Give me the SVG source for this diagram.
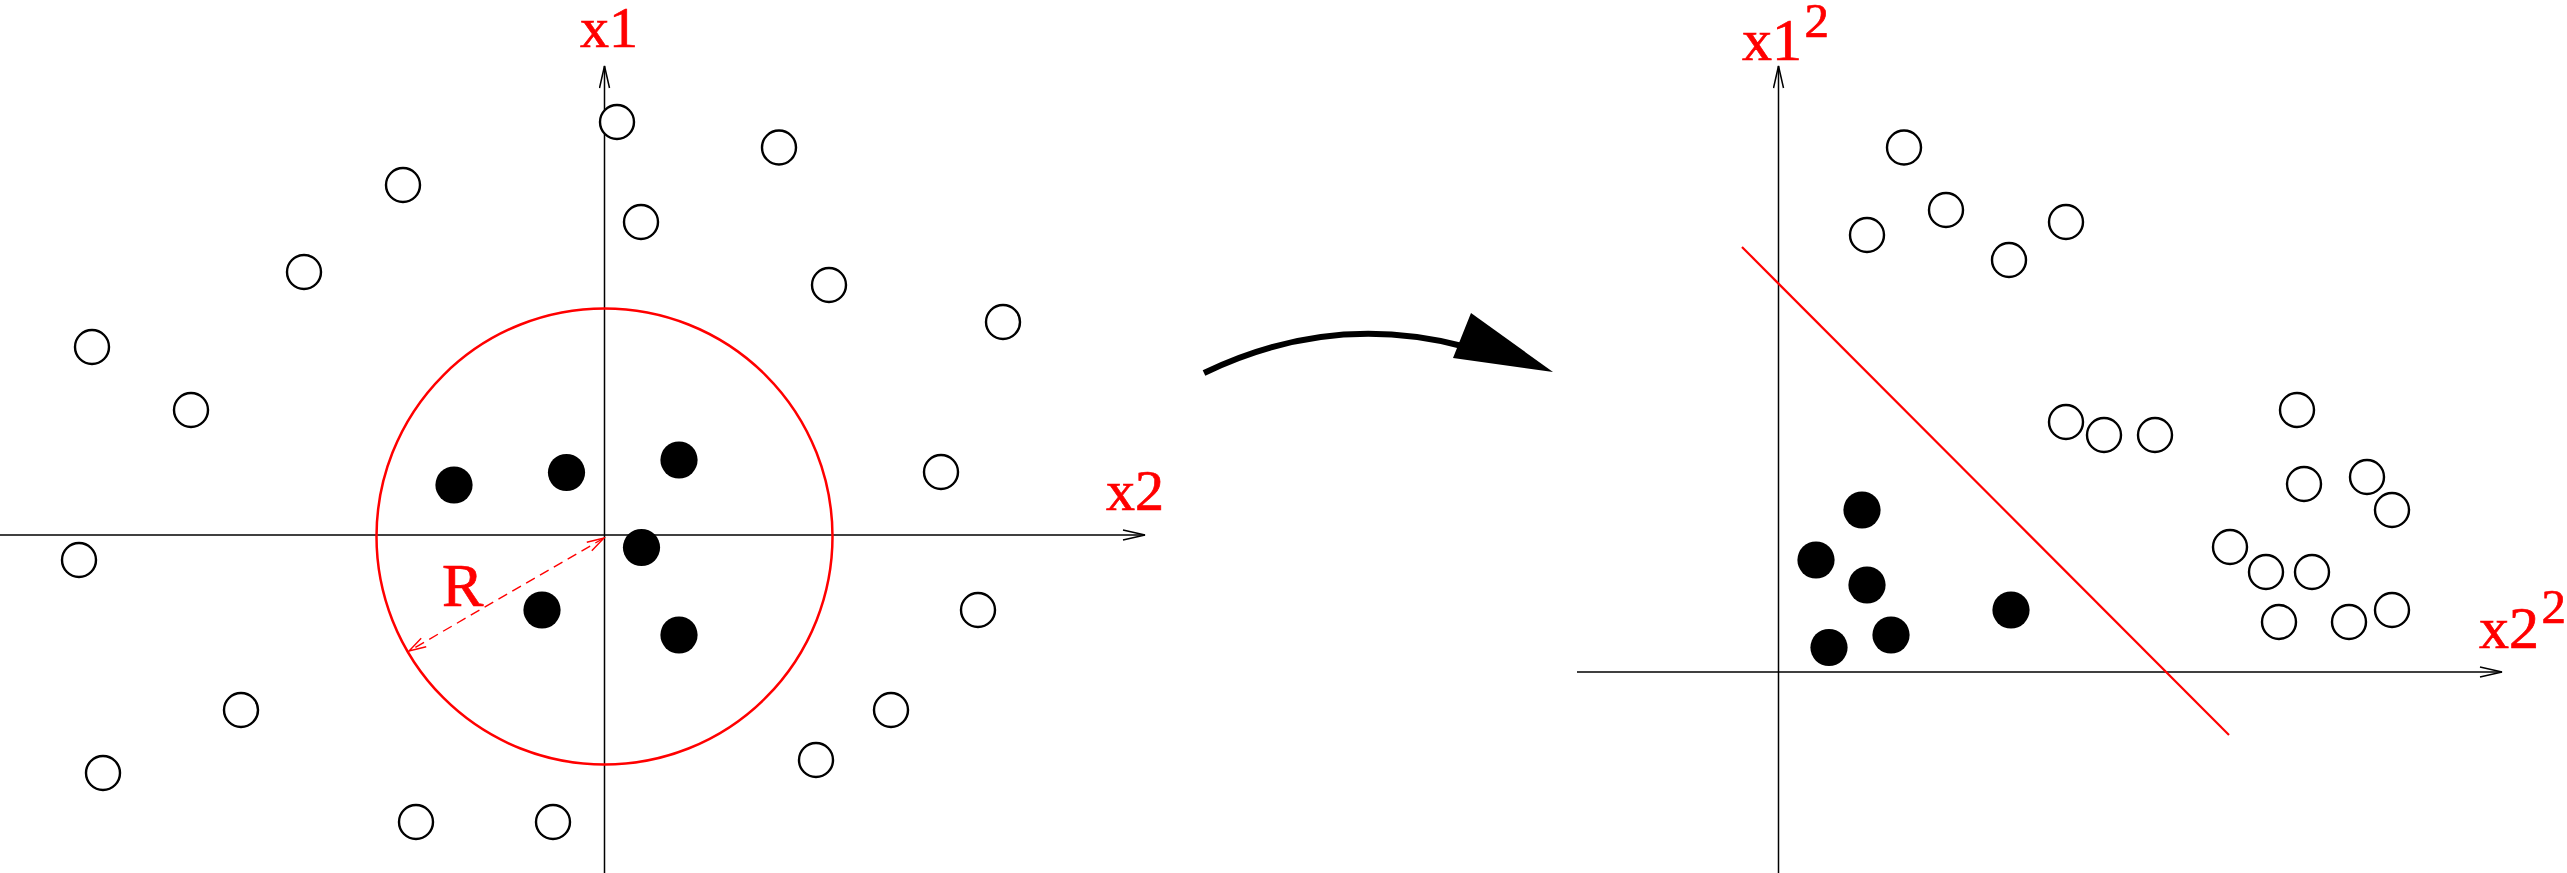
<svg xmlns="http://www.w3.org/2000/svg" width="2567" height="873" viewBox="0 0 2567 873">
  <style>
    .axis { stroke: #000; stroke-width: 1.5; fill: none; }
    .open { fill: #fff; stroke: #000; stroke-width: 2.4; }
    .filled { fill: #000; stroke: none; }
    .red { stroke: #ff0000; fill: none; }
  </style>
  <defs>
    <marker id="axhead" markerUnits="userSpaceOnUse" viewBox="-23 -6 25 12" refX="0" refY="0" markerWidth="25" markerHeight="12" orient="auto">
      <path d="M-22,-5 L0,0 L-22,5" fill="none" stroke="#000" stroke-width="1.5"/>
    </marker>
    <marker id="redhead" markerUnits="userSpaceOnUse" viewBox="-19 -6 21 12" refX="0" refY="0" markerWidth="21" markerHeight="12" orient="auto-start-reverse">
      <path d="M-17,-5 L0,0 L-17,5" fill="none" stroke="#ff0000" stroke-width="1.4"/>
    </marker>
  </defs>
  <rect width="2567" height="873" fill="#fff"/>

  <!-- connectors / axes / lines -->
  <g id="connectors">
    <line class="axis" x1="0" y1="535" x2="1145" y2="535" marker-end="url(#axhead)"/>
    <line class="axis" x1="604.5" y1="873" x2="604.5" y2="66" marker-end="url(#axhead)"/>
    <line class="axis" x1="1577" y1="672" x2="2502" y2="672" marker-end="url(#axhead)"/>
    <line class="axis" x1="1778.5" y1="873" x2="1778.5" y2="66" marker-end="url(#axhead)"/>
    <circle class="red" cx="604.5" cy="536.5" r="228" stroke-width="2.5"/>
    <line class="red" x1="604" y1="538" x2="409" y2="651" stroke-width="1.4" stroke-dasharray="10,6" marker-start="url(#redhead)" marker-end="url(#redhead)"/>
    <line class="red" x1="1742" y1="247" x2="2229" y2="735" stroke-width="2.2"/>
    <path d="M1204,373 Q1330,312 1462,346" fill="none" stroke="#000" stroke-width="6"/>
    <polygon points="1471,313 1553,372 1453,358" fill="#000"/>
  </g>

  <!-- labels -->
  <g id="labels" font-family="'Liberation Serif', 'Times New Roman', serif" fill="#ff0000" stroke="#ff0000" stroke-width="0.7">
    <text x="580" y="47" font-size="58">x1</text>
    <text x="1106" y="510" font-size="58">x2</text>
    <text x="442" y="606" font-size="62">R</text>
    <text x="1742" y="60" font-size="60">x1</text>
    <text x="1804.5" y="37" font-size="49">2</text>
    <text x="2479" y="648" font-size="60">x2</text>
    <text x="2541.5" y="623" font-size="49">2</text>
  </g>

  <!-- left panel points -->
  <g id="left-open">
    <g id="lo1"><circle class="open" cx="617" cy="122" r="17"/></g>
    <g id="lo2"><circle class="open" cx="779" cy="147.5" r="17"/></g>
    <g id="lo3"><circle class="open" cx="403" cy="185" r="17"/></g>
    <g id="lo4"><circle class="open" cx="641" cy="222" r="17"/></g>
    <g id="lo5"><circle class="open" cx="304" cy="272" r="17"/></g>
    <g id="lo6"><circle class="open" cx="829" cy="285" r="17"/></g>
    <g id="lo7"><circle class="open" cx="1003" cy="322" r="17"/></g>
    <g id="lo8"><circle class="open" cx="92" cy="347" r="17"/></g>
    <g id="lo9"><circle class="open" cx="191" cy="410" r="17"/></g>
    <g id="lo10"><circle class="open" cx="941" cy="472" r="17"/></g>
    <g id="lo11"><circle class="open" cx="79" cy="560" r="17"/></g>
    <g id="lo12"><circle class="open" cx="978" cy="610" r="17"/></g>
    <g id="lo13"><circle class="open" cx="241" cy="710" r="17"/></g>
    <g id="lo14"><circle class="open" cx="891" cy="710" r="17"/></g>
    <g id="lo15"><circle class="open" cx="103" cy="773" r="17"/></g>
    <g id="lo16"><circle class="open" cx="816" cy="760" r="17"/></g>
    <g id="lo17"><circle class="open" cx="416" cy="822" r="17"/></g>
    <g id="lo18"><circle class="open" cx="553" cy="822" r="17"/></g>
  </g>
  <g id="left-filled">
    <g id="lf1"><circle class="filled" cx="454" cy="485" r="18.6"/></g>
    <g id="lf2"><circle class="filled" cx="566.5" cy="472.5" r="18.6"/></g>
    <g id="lf3"><circle class="filled" cx="679" cy="460" r="18.6"/></g>
    <g id="lf4"><circle class="filled" cx="641.5" cy="547.5" r="18.6"/></g>
    <g id="lf5"><circle class="filled" cx="542" cy="610" r="18.6"/></g>
    <g id="lf6"><circle class="filled" cx="679" cy="635" r="18.6"/></g>
  </g>

  <!-- right panel points -->
  <g id="right-open">
    <g id="ro1"><circle class="open" cx="1904" cy="147.5" r="17"/></g>
    <g id="ro2"><circle class="open" cx="1946" cy="210" r="17"/></g>
    <g id="ro3"><circle class="open" cx="1867" cy="235" r="17"/></g>
    <g id="ro4"><circle class="open" cx="2066" cy="222" r="17"/></g>
    <g id="ro5"><circle class="open" cx="2009" cy="260" r="17"/></g>
    <g id="ro6"><circle class="open" cx="2066" cy="422" r="17"/></g>
    <g id="ro7"><circle class="open" cx="2104" cy="435" r="17"/></g>
    <g id="ro8"><circle class="open" cx="2155" cy="435" r="17"/></g>
    <g id="ro9"><circle class="open" cx="2297" cy="410" r="17"/></g>
    <g id="ro10"><circle class="open" cx="2304" cy="484" r="17"/></g>
    <g id="ro11"><circle class="open" cx="2367" cy="477" r="17"/></g>
    <g id="ro12"><circle class="open" cx="2392" cy="510" r="17"/></g>
    <g id="ro13"><circle class="open" cx="2230" cy="547" r="17"/></g>
    <g id="ro14"><circle class="open" cx="2266" cy="572" r="17"/></g>
    <g id="ro15"><circle class="open" cx="2312" cy="572" r="17"/></g>
    <g id="ro16"><circle class="open" cx="2279" cy="622" r="17"/></g>
    <g id="ro17"><circle class="open" cx="2349" cy="622" r="17"/></g>
    <g id="ro18"><circle class="open" cx="2392" cy="610" r="17"/></g>
  </g>
  <g id="right-filled">
    <g id="rf1"><circle class="filled" cx="1862" cy="510" r="18.6"/></g>
    <g id="rf2"><circle class="filled" cx="1816" cy="560" r="18.6"/></g>
    <g id="rf3"><circle class="filled" cx="1867" cy="585" r="18.6"/></g>
    <g id="rf4"><circle class="filled" cx="1891" cy="635" r="18.6"/></g>
    <g id="rf5"><circle class="filled" cx="1829" cy="647.5" r="18.6"/></g>
    <g id="rf6"><circle class="filled" cx="2011" cy="610" r="18.6"/></g>
  </g>
</svg>
